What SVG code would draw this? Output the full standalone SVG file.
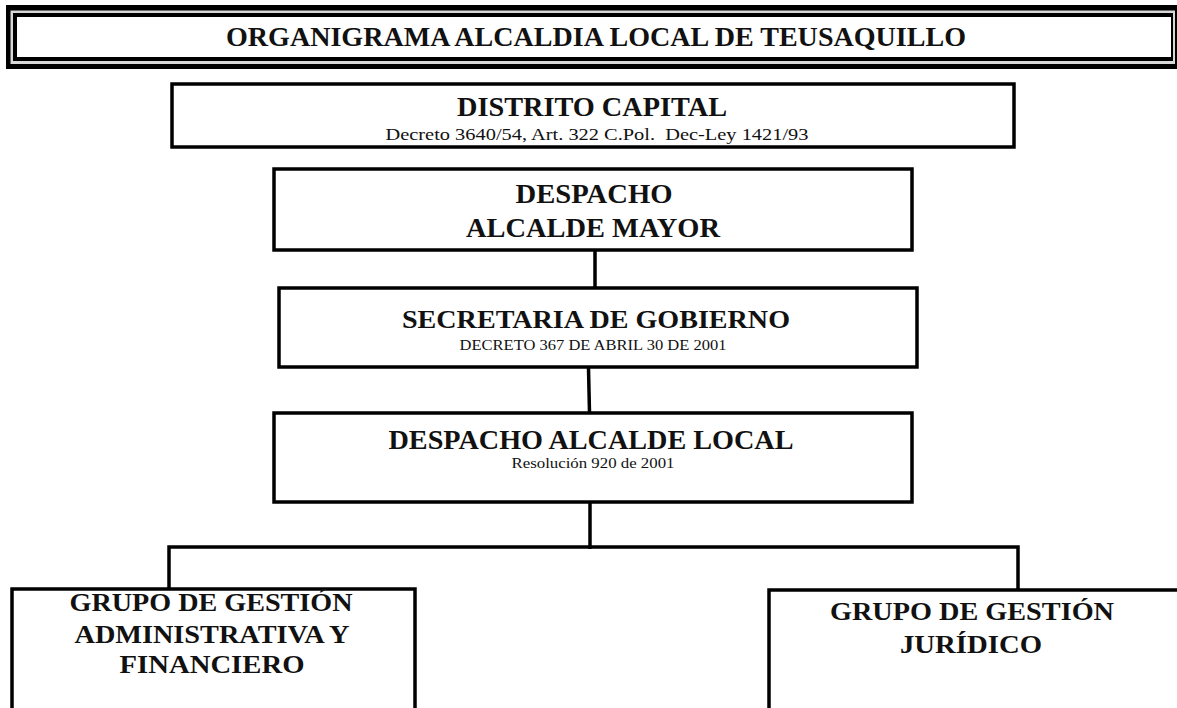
<svg xmlns="http://www.w3.org/2000/svg" width="1177" height="708" viewBox="0 0 1177 708">
<style>
.box{fill:#fff;stroke:#000;stroke-width:3.5}
.t{font-family:"Liberation Serif","Times New Roman",serif;font-weight:bold;text-anchor:middle;fill:#111}
.s{font-family:"Liberation Serif","Times New Roman",serif;text-anchor:middle;fill:#111;white-space:pre}
.c{fill:none;stroke:#000;stroke-width:3.5}
</style>
<rect width="1177" height="708" fill="#fff"/>
<g id="header">
<rect x="6" y="5" width="1171" height="64" fill="#000"/>
<rect x="10.5" y="10.5" width="1164.5" height="53.5" fill="#d8d8d8"/>
<rect x="13" y="13" width="1160" height="48" fill="#000"/>
<rect x="17" y="17" width="1154" height="40" fill="#fff"/>
<text class="t" x="596" y="46" font-size="28" textLength="740" lengthAdjust="spacingAndGlyphs">ORGANIGRAMA ALCALDIA LOCAL DE TEUSAQUILLO</text>
</g>
<g id="connectors">
<path class="c" d="M595 251V288"/>
<path class="c" d="M588.5 368L589.5 413"/>
<path class="c" d="M590 502V549"/>
<path class="c" d="M169 589V547H1018V590"/>
</g>
<g id="distrito">
<rect class="box" x="172" y="84" width="842" height="63"/>
<text class="t" x="592" y="116" font-size="28" textLength="270" lengthAdjust="spacingAndGlyphs">DISTRITO CAPITAL</text>
<text class="s" x="597" y="140" font-size="17" textLength="423" lengthAdjust="spacingAndGlyphs">Decreto 3640/54, Art. 322 C.Pol.  Dec-Ley 1421/93</text>
</g>
<g id="alcalde-mayor">
<rect class="box" x="274" y="169" width="638" height="81"/>
<text class="t" x="594" y="203" font-size="27" textLength="157" lengthAdjust="spacingAndGlyphs">DESPACHO</text>
<text class="t" x="593" y="237" font-size="27" textLength="254" lengthAdjust="spacingAndGlyphs">ALCALDE MAYOR</text>
</g>
<g id="secretaria">
<rect class="box" x="279" y="288" width="638" height="79"/>
<text class="t" x="596" y="328" font-size="25" textLength="388" lengthAdjust="spacingAndGlyphs">SECRETARIA DE GOBIERNO</text>
<text class="s" x="593" y="350" font-size="15" textLength="267" lengthAdjust="spacingAndGlyphs">DECRETO 367 DE ABRIL 30 DE 2001</text>
</g>
<g id="alcalde-local">
<rect class="box" x="274" y="413" width="638" height="89"/>
<text class="t" x="591" y="449" font-size="28" textLength="405" lengthAdjust="spacingAndGlyphs">DESPACHO ALCALDE LOCAL</text>
<text class="s" x="593" y="468" font-size="15" textLength="163" lengthAdjust="spacingAndGlyphs">Resolución 920 de 2001</text>
</g>
<g id="grupo-administrativo">
<rect class="box" x="12" y="589" width="403" height="150"/>
<text class="t" x="211" y="611" font-size="26" textLength="283" lengthAdjust="spacingAndGlyphs">GRUPO DE GESTIÓN</text>
<text class="t" x="212" y="643" font-size="26" textLength="275" lengthAdjust="spacingAndGlyphs">ADMINISTRATIVA Y</text>
<text class="t" x="212" y="673" font-size="26" textLength="185" lengthAdjust="spacingAndGlyphs">FINANCIERO</text>
</g>
<g id="grupo-juridico">
<rect class="box" x="769" y="590" width="420" height="150"/>
<text class="t" x="972" y="620" font-size="26" textLength="284" lengthAdjust="spacingAndGlyphs">GRUPO DE GESTIÓN</text>
<text class="t" x="971" y="653" font-size="26" textLength="142" lengthAdjust="spacingAndGlyphs">JURÍDICO</text>
</g>
</svg>
